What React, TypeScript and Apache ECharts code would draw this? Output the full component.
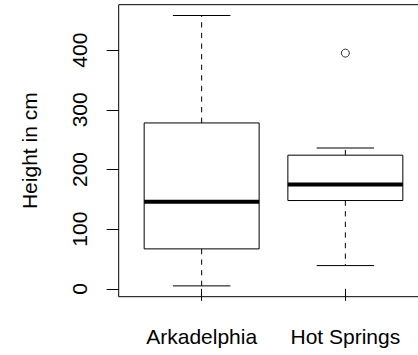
import React, { useEffect, useRef } from "react";
import * as echarts from "echarts";

const categories = ["Arkadelphia", "Hot Springs"];
const whiskerLow = [5, 39];
const quartile1 = [67, 148];
const medians = [146, 175];
const quartile3 = [278, 224];
const whiskerHigh = [458, 236];
const outliers: [number, number][] = [[1, 395]];
const yTicks = [0, 100, 200, 300, 400];
const yTitle = "Height in cm";

const FONT = "'Liberation Sans', Arial, Helvetica, sans-serif";

export default function App() {
  const ref = useRef<HTMLDivElement>(null);
  useEffect(() => {
    if (!ref.current) return;
    const chart = echarts.init(ref.current, null, { renderer: "svg" });

    const allVals = [...whiskerLow, ...whiskerHigh, ...outliers.map((o) => o[1])];
    const dMin = Math.min(...allVals);
    const dMax = Math.max(...allVals);
    const ext = 0.04 * (dMax - dMin);

    const boxData = categories.map((_, i) => [
      i,
      whiskerLow[i],
      quartile1[i],
      medians[i],
      quartile3[i],
      whiskerHigh[i],
    ]);

    const gridLeft = 129.8;
    const gridTop = 4.7;
    const gridWidth = 287.4;
    const gridHeight = 292;
    const frameLeft = 118.7;

    chart.setOption({
      animation: false,
      textStyle: { fontFamily: FONT },
      grid: { left: gridLeft, top: gridTop, width: gridWidth, height: gridHeight, show: false },
      graphic: [
        {
          type: "rect",
          shape: { x: frameLeft, y: gridTop, width: 400, height: gridHeight },
          style: { fill: "none", stroke: "#000", lineWidth: 1 },
          silent: true,
          z: 10,
        },
      ],
      xAxis: {
        type: "category",
        data: categories,
        boundaryGap: true,
        axisLine: { show: false },
        axisTick: {
          show: true,
          alignWithLabel: true,
          interval: 0,
          length: 12,
          lineStyle: { color: "#000", width: 1 },
        },
        axisLabel: {
          interval: 0,
          hideOverlap: false,
          fontSize: 21,
          color: "#000",
          margin: 29,
          fontFamily: FONT,
        },
        splitLine: { show: false },
      },
      yAxis: {
        type: "value",
        min: dMin - ext,
        max: dMax + ext,
        offset: gridLeft - frameLeft,
        axisLine: { show: false },
        axisTick: {
          show: true,
          length: 12,
          customValues: yTicks,
          lineStyle: { color: "#000", width: 1 },
        },
        axisLabel: {
          rotate: 90,
          fontSize: 21,
          color: "#000",
          margin: 29,
          customValues: yTicks,
          fontFamily: FONT,
        },
        splitLine: { show: false },
        name: yTitle,
        nameLocation: "middle",
        nameGap: 79,
        nameTextStyle: { fontSize: 21, color: "#000", fontFamily: FONT },
      },
      series: [
        {
          type: "custom",
          data: boxData,
          encode: { x: 0, y: [1, 2, 3, 4, 5] },
          renderItem: (params: any, api: any) => {
            const x = api.value(0);
            const lo = api.coord([x, api.value(1)]);
            const q1 = api.coord([x, api.value(2)]);
            const md = api.coord([x, api.value(3)]);
            const q3 = api.coord([x, api.value(4)]);
            const hi = api.coord([x, api.value(5)]);
            const band = api.size([1, 0])[0];
            const bw = band * 0.8;
            const cw = bw / 2;
            const cx = lo[0];
            const solid = { stroke: "#000", lineWidth: 1, fill: "none" };
            const dashed = { stroke: "#000", lineWidth: 1, lineDash: [5.3, 5.3], fill: "none" };
            return {
              type: "group",
              children: [
                { type: "line", shape: { x1: cx, y1: q3[1], x2: cx, y2: hi[1] }, style: dashed },
                { type: "line", shape: { x1: cx, y1: q1[1], x2: cx, y2: lo[1] }, style: dashed },
                { type: "line", shape: { x1: cx - cw / 2, y1: hi[1], x2: cx + cw / 2, y2: hi[1] }, style: solid },
                { type: "line", shape: { x1: cx - cw / 2, y1: lo[1], x2: cx + cw / 2, y2: lo[1] }, style: solid },
                {
                  type: "rect",
                  shape: { x: cx - bw / 2, y: q3[1], width: bw, height: q1[1] - q3[1] },
                  style: solid,
                },
                {
                  type: "line",
                  shape: { x1: cx - bw / 2, y1: md[1], x2: cx + bw / 2, y2: md[1] },
                  style: { stroke: "#000", lineWidth: 4 },
                },
              ],
            };
          },
        },
        {
          type: "scatter",
          data: outliers,
          symbol: "circle",
          symbolSize: 8,
          itemStyle: { color: "rgba(0,0,0,0)", borderColor: "#000", borderWidth: 1 },
        },
      ],
    });
    return () => chart.dispose();
  }, []);

  return (
    <div
      ref={ref}
      style={{ position: "absolute", left: 0, top: 0, width: 418, height: 355 }}
    />
  );
}
